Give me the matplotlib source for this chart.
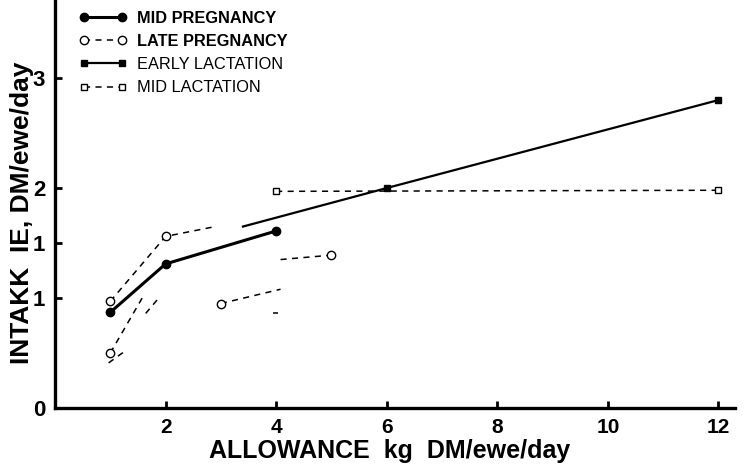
import matplotlib.pyplot as plt

plt.rcParams['font.family'] = ['Liberation Sans Narrow', 'Liberation Sans', 'DejaVu Sans']

# series (x = allowance, y = intake)
mid_preg_x = [1, 2, 4]
mid_preg_y = [0.87, 1.31, 1.61]

late_preg_x = [1, 2, 2.9]
late_preg_y = [0.97, 1.56, 1.65]

early_lact_x = [3.4, 6, 12]
early_lact_y = [1.65, 2.0, 2.8]

mid_lact_x = [4, 12]
mid_lact_y = [1.97, 1.98]

# broken dashed fragments from the scan
frag_a_x = [3.0, 4.08]
frag_a_y = [0.95, 1.08]
frag_b_x = [4.08, 5.0]
frag_b_y = [1.35, 1.39]
frag_c_x = [1.0, 1.6]
frag_c_y = [0.5, 1.02]
frag_d_x = [0.97, 1.3]
frag_d_y = [0.41, 0.53]
frag_e_x = [1.64, 1.86]
frag_e_y = [0.86, 0.99]
frag_f_x = [3.95, 4.03]
frag_f_y = [0.86, 0.86]

xticks = [2, 4, 6, 8, 10, 12]
yticks = [0, 1, 1.5, 2, 3]
ytick_labels = ['0', '1', '1', '2', '3']

fig = plt.figure(figsize=(7.53, 4.72), dpi=100)
ax = fig.add_axes([55 / 753, 1 - 408 / 472, 680 / 753, 408 / 472])

dash = (0, (4, 3.5))

ax.plot(mid_preg_x, mid_preg_y, color='black', lw=2.2, marker='o', ms=6,
        mfc='black', label='MID PREGNANCY')
ax.plot(late_preg_x, late_preg_y, color='black', lw=1.1, ls=dash, marker='o', ms=6,
        mfc='white', markevery=[0, 1], label='LATE PREGNANCY')
ax.plot(early_lact_x, early_lact_y, color='black', lw=1.6, marker='s', ms=5,
        mfc='black', markevery=[1, 2], label='EARLY LACTATION')
ax.plot(mid_lact_x, mid_lact_y, color='black', lw=1.1, ls=dash, marker='s', ms=5,
        mfc='white', label='MID LACTATION')

ax.plot(frag_a_x, frag_a_y, color='black', lw=1.1, ls=dash, marker='o', ms=6,
        mfc='white', markevery=[0])
ax.plot(frag_b_x, frag_b_y, color='black', lw=1.1, ls=dash, marker='o', ms=6,
        mfc='white', markevery=[1])
ax.plot(frag_c_x, frag_c_y, color='black', lw=1.1, ls=dash, marker='o', ms=6,
        mfc='white', markevery=[0])
for fx, fy in [(frag_d_x, frag_d_y), (frag_e_x, frag_e_y), (frag_f_x, frag_f_y)]:
    ax.plot(fx, fy, color='black', lw=1.1, ls=dash)

ax.set_xlim(0, 12.3)
ax.set_ylim(0, 3.71)

for s in ['top', 'right']:
    ax.spines[s].set_visible(False)
for s in ['left', 'bottom']:
    ax.spines[s].set_linewidth(2.4)

ax.set_xticks(xticks)
ax.set_xticklabels([str(t) for t in xticks], fontsize=15, fontweight='bold')
ax.set_yticks(yticks)
ax.set_yticklabels(ytick_labels, fontsize=16, fontweight='bold')
ax.tick_params(direction='in', length=5, width=2, pad=7)

fig.text(0.517, 0.044, 'ALLOWANCE  kg  DM/ewe/day', ha='center', va='center',
         fontsize=18, fontweight='bold')
fig.text(0.029, 0.55, 'INTAKK  IE, DM/ewe/day', ha='center', va='center',
         rotation=90, fontsize=19, fontweight='bold')

leg = ax.legend(loc='upper left', bbox_to_anchor=(0.014, 1.01), frameon=False,
                numpoints=2, handlelength=2.9, fontsize=11.8, labelspacing=0.5,
                handletextpad=0.6)
for i, t in enumerate(leg.get_texts()):
    if i < 2:
        t.set_fontweight('bold')

fig.savefig('out.png', dpi=100)
